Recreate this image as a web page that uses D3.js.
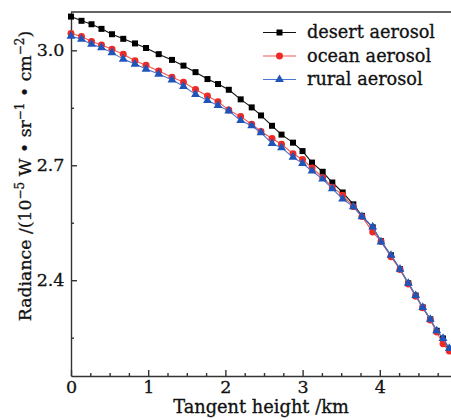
<!DOCTYPE html>
<html>
<head>
<meta charset="utf-8">
<script src="https://cdn.jsdelivr.net/npm/d3@7"></script>
<style>
  body { margin: 0; background: white; overflow: hidden; }
  svg { display: block; font-family: "DejaVu Serif", serif; }
  svg text { stroke: #111; stroke-width: 0.3; }
  .axis path, .axis line { stroke: #333; stroke-width: 1.4; }
</style>
</head>
<body>
<script>
const width = 451;
const height = 420;
const margin = { top: 12, right: -6, bottom: 44, left: 71 };

// tangent height of every sample, km
const heightKm = [0, 0.136, 0.266, 0.395, 0.531, 0.677, 0.829, 0.972, 1.136, 1.308,
  1.457, 1.613, 1.768, 1.904, 2.044, 2.198, 2.341, 2.461, 2.604, 2.727,
  2.876, 2.999, 3.122, 3.260, 3.385, 3.519, 3.657, 3.769, 3.908, 4.016,
  4.145, 4.262, 4.369, 4.465, 4.556, 4.654, 4.737, 4.819, 4.900];

const desert = [3.088, 3.077, 3.068, 3.056, 3.042, 3.030, 3.018, 3.006, 2.990, 2.975,
  2.960, 2.943, 2.925, 2.912, 2.897, 2.872, 2.851, 2.830, 2.803, 2.780,
  2.759, 2.737, 2.707, 2.683, 2.655, 2.629, 2.598, 2.568, 2.538, 2.502,
  2.465, 2.429, 2.392, 2.360, 2.329, 2.298, 2.268, 2.248, 2.221];

const ocean = [3.044, 3.036, 3.023, 3.014, 3.003, 2.990, 2.973, 2.961, 2.946, 2.930,
  2.917, 2.898, 2.881, 2.866, 2.844, 2.827, 2.807, 2.788, 2.770, 2.755,
  2.730, 2.715, 2.693, 2.668, 2.643, 2.622, 2.592, 2.566, 2.526, 2.501,
  2.461, 2.428, 2.390, 2.358, 2.328, 2.296, 2.265, 2.234, 2.215];

const rural = [3.037, 3.029, 3.016, 3.007, 2.994, 2.977, 2.964, 2.951, 2.938, 2.923,
  2.906, 2.885, 2.869, 2.856, 2.842, 2.817, 2.803, 2.785, 2.757, 2.746,
  2.721, 2.705, 2.685, 2.664, 2.639, 2.612, 2.592, 2.566, 2.539, 2.500,
  2.465, 2.429, 2.392, 2.360, 2.329, 2.298, 2.268, 2.248, 2.222];

const seriesNames = ["desert aerosol", "ocean aerosol", "rural aerosol"];
const xTicks = [0, 1, 2, 3, 4, 5];
const yTicks = [2.4, 2.7, 3.0];
const xMinor = [0.25, 0.5, 0.75, 1.25, 1.5, 1.75, 2.25, 2.5, 2.75, 3.25, 3.5, 3.75, 4.25, 4.5, 4.75];
const yMinor = [2.25, 2.55, 2.85];

const series = [
  { name: seriesNames[0], values: desert, line: "#111", fill: "#000", shape: d3.symbolSquare, size: 36 },
  { name: seriesNames[1], values: ocean, line: "#f4564e", fill: "#ee2a26", shape: d3.symbolCircle, size: 38 },
  { name: seriesNames[2], values: rural, line: "#4a74d6", fill: "#1f55b8", shape: d3.symbolTriangle, size: 34 }
];

const svg = d3.select("body").append("svg")
  .attr("width", width)
  .attr("height", height);

const x = d3.scaleLinear()
  .domain([0, 5])
  .range([margin.left, width - margin.right]);

const y = d3.scaleLinear()
  .domain([2.15, 3.1])
  .range([height - margin.bottom, margin.top]);

// frame top + right
svg.append("path")
  .attr("d", `M${x(0)},${y(3.1)}H${x(5)}V${y(2.15)}`)
  .attr("fill", "none")
  .attr("stroke", "#333")
  .attr("stroke-width", 1.4);

svg.append("g")
  .attr("class", "axis")
  .attr("transform", `translate(0, ${y(2.15)})`)
  .call(d3.axisBottom(x).tickValues(xTicks).tickSize(-6).tickSizeOuter(0).tickPadding(5).tickFormat(d3.format("d")));

svg.append("g")
  .attr("class", "axis")
  .attr("transform", `translate(0, ${y(2.15)})`)
  .call(d3.axisBottom(x).tickValues(xMinor).tickSize(-3).tickSizeOuter(0).tickFormat(""))
  .select(".domain").remove();

svg.append("g")
  .attr("class", "axis")
  .attr("transform", `translate(${x(0)}, 0)`)
  .call(d3.axisLeft(y).tickValues(yTicks).tickSize(-6).tickSizeOuter(0).tickPadding(6.5).tickFormat(d3.format(".1f")));

svg.append("g")
  .attr("class", "axis")
  .attr("transform", `translate(${x(0)}, 0)`)
  .call(d3.axisLeft(y).tickValues(yMinor).tickSize(-3).tickSizeOuter(0).tickFormat(""))
  .select(".domain").remove();

svg.selectAll(".axis text")
  .attr("font-family", "DejaVu Serif")
  .attr("font-size", 17.5)
  .attr("fill", "#111");

// axis titles
svg.append("text")
  .attr("x", (x(0) + x(5)) / 2 - 3)
  .attr("y", 413)
  .attr("text-anchor", "middle")
  .attr("font-size", 17.8)
  .attr("fill", "#111")
  .text("Tangent height /km");

const yTitle = svg.append("text")
  .attr("transform", "translate(31, 176) rotate(-90)")
  .attr("text-anchor", "middle")
  .attr("font-size", 17.3)
  .attr("fill", "#111");

yTitle.append("tspan").text("Radiance /(10");
yTitle.append("tspan").attr("dy", -7).attr("font-size", 12).text("\u22125");
yTitle.append("tspan").attr("dy", 7).text(" W \u2022 sr");
yTitle.append("tspan").attr("dy", -7).attr("font-size", 12).text("\u22121");
yTitle.append("tspan").attr("dy", 7).text(" \u2022 cm");
yTitle.append("tspan").attr("dy", -7).attr("font-size", 12).text("\u22122");
yTitle.append("tspan").attr("dy", 7).text(")");

const line = d3.line()
  .x((d, i) => x(heightKm[i]))
  .y(d => y(d));

series.forEach(s => {
  svg.append("path")
    .datum(s.values)
    .attr("fill", "none")
    .attr("stroke", s.line)
    .attr("stroke-width", 1.1)
    .attr("d", line);

  svg.selectAll(null)
    .data(s.values)
    .enter()
    .append("path")
    .attr("d", d3.symbol().type(s.shape).size(s.size))
    .attr("fill", s.fill)
    .attr("transform", (d, i) => `translate(${x(heightKm[i])}, ${y(d)})`);
});

// legend
const legend = svg.append("g")
  .attr("transform", "translate(263, 32.5)");

series.forEach((s, i) => {
  const row = legend.append("g").attr("transform", `translate(0, ${i * 23.5})`);
  row.append("line")
    .attr("x1", 0).attr("x2", 33)
    .attr("stroke", s.line)
    .attr("stroke-width", 1.1);
  row.append("path")
    .attr("d", d3.symbol().type(s.shape).size(s.size))
    .attr("fill", s.fill)
    .attr("transform", "translate(16.5, 0)");
  row.append("text")
    .attr("x", 44)
    .attr("y", 5.5)
    .attr("font-size", 17.7)
    .attr("fill", "#111")
    .text(s.name);
});
</script>
</body>
</html>
